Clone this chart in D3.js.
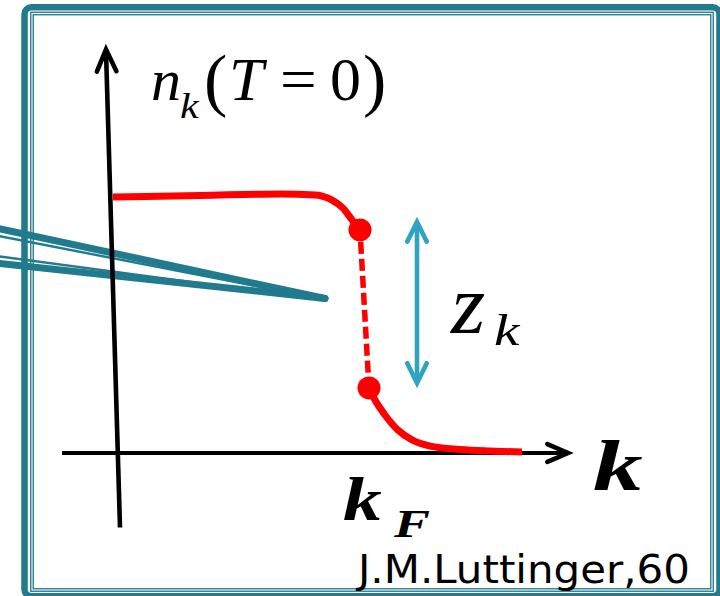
<!DOCTYPE html>
<html>
<head>
<meta charset="utf-8">
<script src="https://cdn.jsdelivr.net/npm/d3@7"></script>
<style>
  html, body { margin: 0; padding: 0; background: #fff; }
  svg { display: block; }
  .m { font-family: "Liberation Serif", serif; }
  .s { font-family: "DejaVu Sans", sans-serif; }
</style>
</head>
<body>
<script>
// Occupation n_k at T = 0 around the Fermi momentum (k in units of k_F)
const kBelow = [0, 0.35, 0.67, 0.81, 0.876, 0.92, 0.956, 0.988];
const nBelow = [0.996, 1.002, 1.008, 1.004, 0.984, 0.953, 0.907, 0.868];
const kAbove = [1.024, 1.048, 1.088, 1.14, 1.196, 1.268, 1.388, 1.508, 1.636];
const nAbove = [0.253, 0.206, 0.148, 0.089, 0.051, 0.027, 0.014, 0.008, 0.004];

// axis extents in data units
const kAxis = [-0.204, 1.82];
const nAxis = [-0.29, 1.57];
const nAxisLean = [0.028, -0.028];   // k offset of the vertical axis at its foot and head
const zArrowK = 1.216;               // where the jump z_k is marked

const W = 720, H = 596;
const teal = "#217a8e", tealLight = "#2fa3bf", red = "#ff0000";

const svg = d3.select("body").append("svg").attr("width", W).attr("height", H);

const x = d3.scaleLinear().domain([0, 1]).range([113, 363]);
const y = d3.scaleLinear().domain([0, 1]).range([453, 196]);

// ---- slide frame: thick rounded border plus a thin double rule inside ----
svg.append("rect").attr("x", 24.5).attr("y", 7.3).attr("width", 695).attr("height", 589)
  .attr("rx", 7).attr("fill", "none").attr("stroke", teal).attr("stroke-width", 6.5);
svg.append("rect").attr("x", 32).attr("y", 13.5).attr("width", 680).attr("height", 576.5)
  .attr("fill", "none").attr("stroke", teal).attr("stroke-width", 3.8);
svg.append("rect").attr("x", 32).attr("y", 13.5).attr("width", 680).attr("height", 576.5)
  .attr("fill", "none").attr("stroke", "#fff").attr("stroke-width", 1.1);

// ---- callout pointer coming in from the left ----
const tip = [325, 298.5];
const callout = svg.append("g").attr("stroke", teal).attr("fill", "none").attr("stroke-linecap", "round");
callout.append("line").attr("x1", -4).attr("y1", 228).attr("x2", tip[0]).attr("y2", tip[1]).attr("stroke-width", 7);
callout.append("line").attr("x1", -4).attr("y1", 235.5).attr("x2", tip[0] - 10).attr("y2", tip[1] - 1).attr("stroke-width", 2.4);
callout.append("line").attr("x1", -4).attr("y1", 256).attr("x2", tip[0] - 10).attr("y2", tip[1]).attr("stroke-width", 2.4);
callout.append("line").attr("x1", -4).attr("y1", 263).attr("x2", tip[0]).attr("y2", tip[1]).attr("stroke-width", 7);

// ---- open chevron arrow head ----
function chevron(g, tx, ty, dx, dy, len, ang, color, sw) {
  const a = Math.atan2(dy, dx);
  const p1 = [tx - len * Math.cos(a - ang), ty - len * Math.sin(a - ang)];
  const p2 = [tx - len * Math.cos(a + ang), ty - len * Math.sin(a + ang)];
  g.append("path")
    .attr("d", `M${p1[0]},${p1[1]}L${tx},${ty}L${p2[0]},${p2[1]}`)
    .attr("fill", "none").attr("stroke", color).attr("stroke-width", sw)
    .attr("stroke-linecap", "round").attr("stroke-linejoin", "miter");
}

const axes = svg.append("g");
// horizontal k axis
const hx0 = x(kAxis[0]), hx1 = x(kAxis[1]), hy = y(0);
axes.append("line").attr("x1", hx0).attr("y1", hy).attr("x2", hx1 - 2).attr("y2", hy)
  .attr("stroke", "#000").attr("stroke-width", 4);
chevron(axes, hx1, hy, 1, 0, 22.5, 0.41, "#000", 4.6);

// vertical n axis (leans slightly)
const vx0 = x(nAxisLean[0]), vy0 = y(nAxis[0]);
const vx1 = x(nAxisLean[1]), vy1 = y(nAxis[1]);
axes.append("line").attr("x1", vx0).attr("y1", vy0).attr("x2", vx1).attr("y2", vy1 + 2)
  .attr("stroke", "#000").attr("stroke-width", 4.6);
chevron(axes, vx1, vy1, vx1 - vx0, vy1 - vy0, 24, 0.42, "#000", 4.6);

// ---- distribution curve ----
const line = d3.line().x(d => x(d[0])).y(d => y(d[1])).curve(d3.curveMonotoneX);
const below = d3.zip(kBelow, nBelow);
const above = d3.zip(kAbove, nAbove);
const plot = svg.append("g");
plot.append("path").attr("d", line(below)).attr("fill", "none").attr("stroke", red)
  .attr("stroke-width", 7).attr("stroke-linecap", "butt");
plot.append("path").attr("d", line(above)).attr("fill", "none").attr("stroke", red)
  .attr("stroke-width", 7).attr("stroke-linecap", "butt");

// discontinuity at k_F
const jumpTop = below[below.length - 1], jumpBottom = above[0];
plot.append("line")
  .attr("x1", x(jumpTop[0])).attr("y1", y(jumpTop[1]))
  .attr("x2", x(jumpBottom[0])).attr("y2", y(jumpBottom[1]))
  .attr("stroke", red).attr("stroke-width", 5.5).attr("stroke-dasharray", "12,5")
  .attr("stroke-dashoffset", -12);
plot.selectAll("circle").data([jumpTop, jumpBottom]).join("circle")
  .attr("cx", d => x(d[0])).attr("cy", d => y(d[1])).attr("r", 11.5).attr("fill", red);

// ---- z_k double arrow ----
const za = svg.append("g");
const zx = x(zArrowK), zTop = y(jumpTop[1]) - 8, zBot = y(jumpBottom[1]) - 5;
za.append("line").attr("x1", zx).attr("y1", zTop + 2).attr("x2", zx).attr("y2", zBot - 2)
  .attr("stroke", tealLight).attr("stroke-width", 4.6);
chevron(za, zx, zTop, 0, -1, 22, 0.46, tealLight, 4.6);
chevron(za, zx, zBot, 0, 1, 22, 0.46, tealLight, 4.6);

// ---- labels ----
const t = svg.append("g").attr("fill", "#000");
// glyph placed at (px, py); sx widens the glyph horizontally
function txt(s, px, py, size, style, weight, sx, cls) {
  return t.append("text").attr("class", cls || "m")
    .attr("transform", `translate(${px},${py}) scale(${sx || 1},1)`).text(s)
    .attr("font-size", size)
    .attr("font-style", style || "normal").attr("font-weight", weight || "normal");
}
// n_k(T = 0)
txt("n", 151, 100, 60, "italic");
txt("k", 180, 118, 35, "italic", "normal", 1.2);
txt("(", 204, 103, 70);
txt("T", 229, 100, 62, "italic");
txt("=", 280, 100, 62, "normal", "normal", 1.05);
txt("0", 330, 100, 62);
txt(")", 363, 103, 70);

// z_k
txt("z", 451, 333, 84, "italic", "normal", 1.05);
txt("k", 494, 345, 44, "italic", "normal", 1.3);

// k axis name and k_F
txt("k", 593, 490, 72, "italic", "bold", 1.38);
txt("k", 343, 520, 62, "italic", "bold", 1.25);
txt("F", 394, 537, 40, "italic", "bold", 1.35);

// citation
txt("J.M.Luttinger,60", 358, 583, 39, "normal", "normal", 1, "s")
  .attr("textLength", 332).attr("lengthAdjust", "spacingAndGlyphs");
</script>
</body>
</html>
